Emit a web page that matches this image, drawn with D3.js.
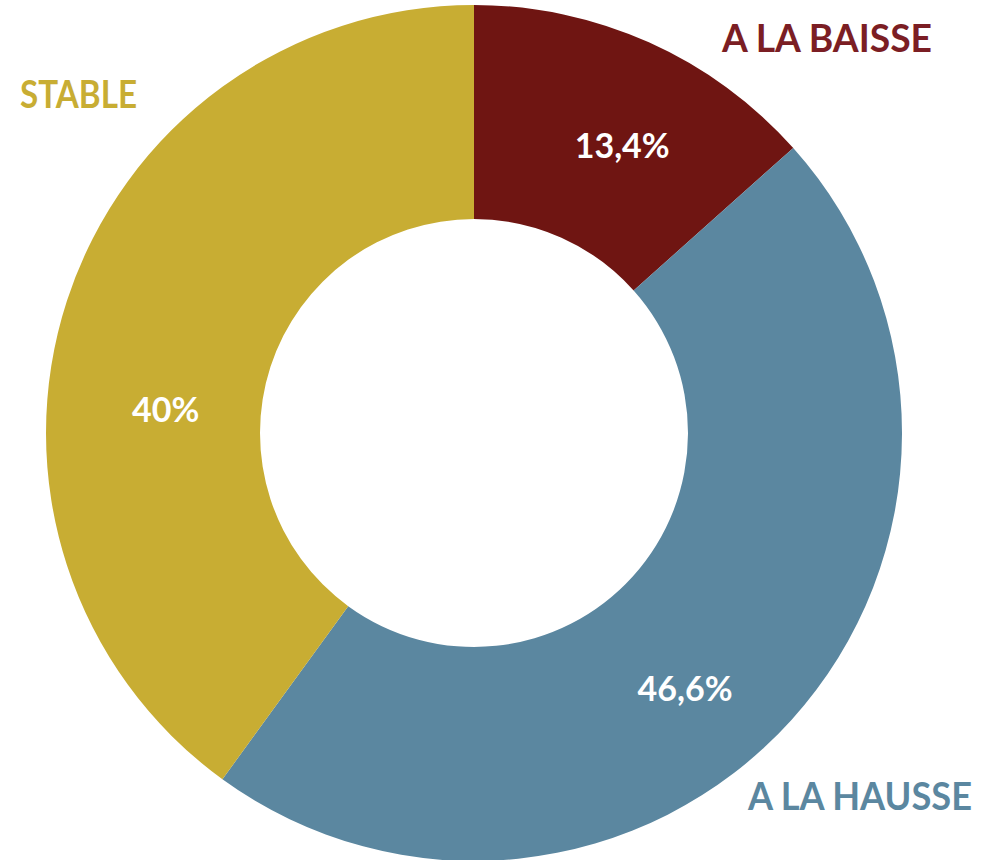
<!DOCTYPE html>
<html>
<head>
<meta charset="utf-8">
<script src="https://cdn.jsdelivr.net/npm/d3@7"></script>
<style>
  body { margin: 0; background: #fff; }
  text { font-family: Lato, "Open Sans", sans-serif; font-weight: 700; }
</style>
</head>
<body>
<div class="grafico"></div>
<script>
// data
var categories = ["A LA BAISSE", "A LA HAUSSE", "STABLE"];
var values = [13.4, 46.6, 40];
var valueLabels = ["13,4%", "46,6%", "40%"];

var width = 986, height = 860;
var cx = 474, cy = 433,
  outerR = 428, innerR = 214;

var color = d3.scaleOrdinal()
  .domain(categories)
  .range(["#6f1512", "#5b87a0", "#c8ad33"]);
var textColor = d3.scaleOrdinal()
  .domain(categories)
  .range(["#7b1e24", "#5b87a0", "#c8ad33"]);

// nudges of the % labels from the arc centroid (as placed in the original)
var labelNudge = [[17, 6], [-27, 40], [-3, 76]];
// category labels: x, baseline y, width
var catPos = [[722, 52, 210], [748, 810, 224], [20, 108, 117]];

var svg = d3.select(".grafico").append("svg")
  .attr("width", width)
  .attr("height", height);

var pie = d3.pie().sort(null).value(function (d) { return d.value; });
var arc = d3.arc().innerRadius(innerR).outerRadius(outerR);

var data = categories.map(function (c, i) {
  return { name: c, value: values[i], label: valueLabels[i], i: i };
});

var g = svg.append("g")
  .attr("transform", "translate(" + cx + "," + cy + ")");

var slices = g.selectAll(".slice")
  .data(pie(data))
  .enter().append("g")
  .attr("class", "slice");

slices.append("path")
  .attr("d", arc)
  .style("fill", function (d) { return color(d.data.name); });

slices.append("text")
  .attr("transform", function (d) {
    var c = arc.centroid(d), n = labelNudge[d.data.i];
    return "translate(" + (c[0] + n[0]) + "," + (c[1] + n[1]) + ")";
  })
  .attr("text-anchor", "middle")
  .attr("dy", "0.36em")
  .style("font-size", "34px")
  .style("fill", "#fff")
  .text(function (d) { return d.data.label; });

// category labels
svg.append("g").selectAll("text")
  .data(data)
  .enter().append("text")
  .attr("x", function (d) { return catPos[d.i][0]; })
  .attr("y", function (d) { return catPos[d.i][1]; })
  .attr("textLength", function (d) { return catPos[d.i][2]; })
  .attr("lengthAdjust", "spacingAndGlyphs")
  .style("font-size", "38px")
  .style("fill", function (d) { return textColor(d.name); })
  .text(function (d) { return d.name; });
</script>
</body>
</html>
